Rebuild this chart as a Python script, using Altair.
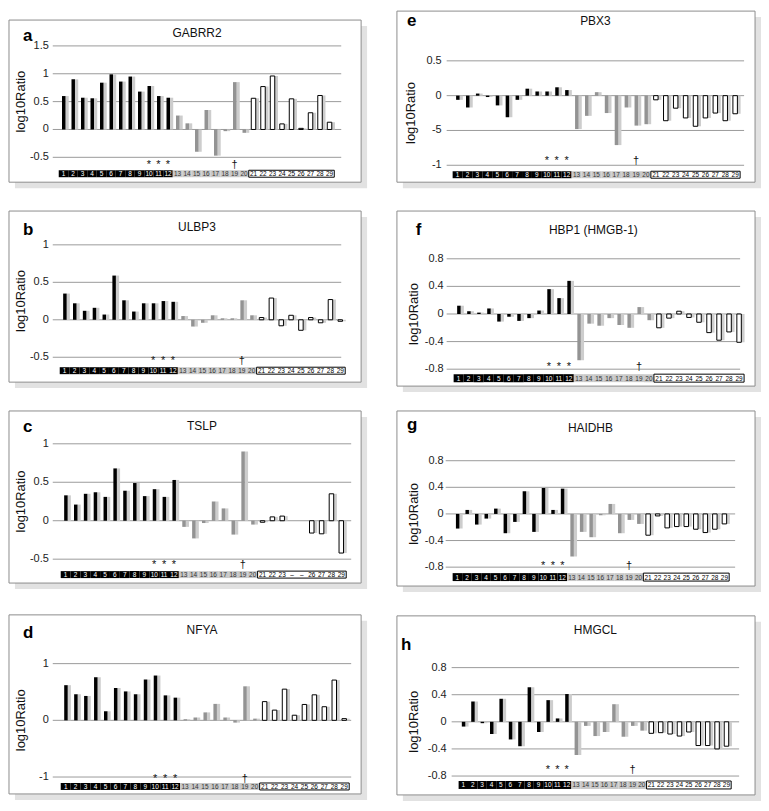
import altair as alt
import pandas as pd

# ---------------- data ----------------
samples = list(range(1, 30))
sample_groups = ["black"] * 12 + ["gray"] * 8 + ["white"] * 9
strip_labels = [str(s) for s in samples]
strip_labels_tslp = [str(s) for s in samples[:23]] + ["\u2013", "\u2013"] + [str(s) for s in samples[25:]]

group_names = ["black", "gray", "white"]
group_start = [1, 13, 21]
group_end = [12, 20, 29]

marker_samples = [10, 11, 12, 19]
marker_symbols = ["*", "*", "*", "\u2020"]

gabrr2 = [0.60, 0.90, 0.57, 0.56, 0.84, 0.99, 0.86, 0.95, 0.68, 0.78, 0.60, 0.57,
          0.25, 0.11, -0.40, 0.35, -0.47, -0.03, 0.85, -0.06,
          0.56, 0.77, 0.96, 0.10, 0.55, 0.02, 0.30, 0.61, 0.13]
ulbp3 = [0.35, 0.22, 0.12, 0.16, 0.07, 0.59, 0.26, 0.11, 0.22, 0.22, 0.25, 0.24,
         0.05, -0.09, -0.04, 0.06, 0.02, 0.02, 0.26, 0.06,
         0.03, 0.29, -0.08, 0.06, -0.14, 0.03, -0.04, 0.27, -0.02]
tslp = [0.33, 0.21, 0.35, 0.37, 0.31, 0.68, 0.39, 0.49, 0.32, 0.41, 0.31, 0.53,
        -0.08, -0.23, -0.03, 0.25, 0.16, -0.18, 0.90, -0.05,
        -0.02, 0.05, 0.06, None, None, -0.16, -0.17, 0.35, -0.42]
nfya = [0.62, 0.46, 0.43, 0.76, 0.16, 0.57, 0.51, 0.46, 0.72, 0.79, 0.44, 0.40,
        0.02, 0.05, 0.14, 0.29, 0.05, -0.04, 0.60, 0.03,
        0.33, 0.18, 0.55, 0.09, 0.28, 0.45, 0.24, 0.71, 0.03]
pbx3 = [-0.06, -0.17, 0.03, -0.02, -0.14, -0.31, -0.06, 0.10, 0.06, 0.06, 0.12, 0.08,
        -0.48, -0.29, 0.05, -0.25, -0.71, -0.17, -0.43, -0.41,
        -0.06, -0.36, -0.18, -0.32, -0.44, -0.32, -0.25, -0.36, -0.26]
hbp1 = [0.12, 0.04, 0.02, 0.08, -0.11, -0.04, -0.10, -0.06, 0.05, 0.36, 0.23, 0.48,
        -0.67, -0.14, -0.17, -0.06, -0.16, -0.20, 0.10, -0.09,
        -0.20, -0.06, 0.04, -0.05, -0.12, -0.27, -0.38, -0.26, -0.41]
haidhb = [-0.22, 0.06, -0.16, -0.07, 0.08, -0.29, -0.12, 0.34, -0.27, 0.39, 0.06, 0.38,
          -0.64, -0.27, -0.35, -0.02, 0.15, -0.29, -0.09, -0.15,
          -0.32, -0.03, -0.21, -0.19, -0.19, -0.23, -0.28, -0.23, -0.15]
hmgcl = [-0.07, 0.30, -0.02, -0.18, 0.34, -0.26, -0.36, 0.51, -0.15, 0.32, 0.05, 0.41,
         -0.49, -0.06, -0.21, -0.15, 0.26, -0.22, -0.06, -0.13,
         -0.17, -0.16, -0.18, -0.21, -0.15, -0.35, -0.35, -0.40, -0.36]

ticks_a = [-0.5, 0, 0.5, 1, 1.5]
labels_a = ["-0.5", "0", "0.5", "1", "1.5"]
ticks_bc = [-0.5, 0, 0.5, 1]
labels_bc = ["-0.5", "0", "0.5", "1"]
ticks_d = [-1, 0, 1]
labels_d = ["-1", "0", "1"]
ticks_e = [-1, -0.5, 0, 0.5]
labels_e = ["-1", "-5", "0", "0.5"]
ticks_fgh = [-0.8, -0.4, 0, 0.4, 0.8]
labels_fgh = ["-0.8", "-0.4", "0", "0.4", "0.8"]

FONT = "Liberation Sans"
bar_fill = {"black": "#000000", "gray": "#939393", "white": "#ffffff"}
strip_fill = {"black": "#000000", "gray": "#c8c8c8", "white": "#ffffff"}
strip_text = {"black": "#ffffff", "gray": "#333333", "white": "#000000"}

LW, RW = 390, 366


def panel(p):
    W, H = p["cell"]
    bx0, by0, bx1, by1 = p["box"]
    gx0, gx1 = p["grid"]
    xs = alt.Scale(domain=[0.5, 29.5], range=list(p["band"]), nice=False, zero=False)
    ys = alt.Scale(domain=[p["ticks"][0], p["ticks"][-1]], range=[p["glo"], p["ghi"]],
                   nice=False, zero=False)
    one = pd.DataFrame({"k": [0]})

    df = pd.DataFrame({"sample": samples, "value": p["values"], "group": sample_groups})
    df["base"] = 0.0
    df["fill"] = df["group"].map(bar_fill)

    st = pd.DataFrame({"sample": samples, "group": sample_groups, "label": p["strip"]})
    st["fill"] = st["group"].map(strip_fill)
    st["tcol"] = st["group"].map(strip_text)

    grp = pd.DataFrame({"group": group_names, "start": group_start, "end": group_end})
    tk = pd.DataFrame({"tick": p["ticks"], "label": p["labels"]})
    mk = pd.DataFrame({"sample": marker_samples, "sym": marker_symbols})

    layers = []
    # panel shadow and frame
    layers.append(alt.Chart(one).mark_rect(color="#e2e2e2").encode(
        x=alt.value(bx0 + 6), x2=alt.value(bx1 + 6), y=alt.value(by0 + 6), y2=alt.value(by1 + 6)))
    layers.append(alt.Chart(one).mark_rect(fill="#ffffff", stroke="#8c8c8c", strokeWidth=1).encode(
        x=alt.value(bx0), x2=alt.value(bx1), y=alt.value(by0), y2=alt.value(by1)))
    # gridlines
    layers.append(alt.Chart(tk).mark_rule(color="#9a9a9a", strokeWidth=1).encode(
        y=alt.Y("tick:Q", scale=ys, axis=None), x=alt.value(gx0), x2=alt.value(gx1)))
    # y labels
    layers.append(alt.Chart(tk).mark_text(align="right", baseline="middle", fontSize=11,
                                          font=FONT, color="#222222").encode(
        y=alt.Y("tick:Q", scale=ys, axis=None), x=alt.value(p["lx"]), text="label:N"))
    # bar shadows
    narrow = alt.datum.group != "white"
    wide = alt.datum.group == "white"
    layers.append(alt.Chart(df).transform_filter(narrow).mark_bar(
        width=3.5, xOffset=3.5, color="#cdcdcd").encode(
        x=alt.X("sample:Q", scale=xs, axis=None),
        y=alt.Y("value:Q", scale=ys, axis=None), y2="base:Q"))
    layers.append(alt.Chart(df).transform_filter(wide).mark_bar(
        width=5, xOffset=3, color="#cdcdcd").encode(
        x=alt.X("sample:Q", scale=xs, axis=None),
        y=alt.Y("value:Q", scale=ys, axis=None), y2="base:Q"))
    # bars
    layers.append(alt.Chart(df).transform_filter(narrow).mark_bar(
        width=3.5, xOffset=0.25).encode(
        x=alt.X("sample:Q", scale=xs, axis=None),
        y=alt.Y("value:Q", scale=ys, axis=None), y2="base:Q",
        color=alt.Color("fill:N", scale=None)))
    layers.append(alt.Chart(df).transform_filter(wide).mark_bar(
        width=4.5, xOffset=0, fill="#ffffff", stroke="#000000", strokeWidth=1).encode(
        x=alt.X("sample:Q", scale=xs, axis=None),
        y=alt.Y("value:Q", scale=ys, axis=None), y2="base:Q"))
    # sample strip
    s0, s1 = p["strip_y"]
    layers.append(alt.Chart(st).transform_calculate(
        x0="datum.sample - 0.5", x1="datum.sample + 0.5").mark_rect().encode(
        x=alt.X("x0:Q", scale=xs, axis=None), x2="x1:Q",
        y=alt.value(s0), y2=alt.value(s1),
        color=alt.Color("fill:N", scale=None)))
    layers.append(alt.Chart(grp).transform_filter(alt.datum.group == "white").transform_calculate(
        x0="datum.start - 0.5", x1="datum.end + 0.5").mark_rect(
        fillOpacity=0, stroke="#000000", strokeWidth=1).encode(
        x=alt.X("x0:Q", scale=xs, axis=None), x2="x1:Q",
        y=alt.value(s0), y2=alt.value(s1)))
    layers.append(alt.Chart(st).mark_text(fontSize=6.5, baseline="middle", font=FONT).encode(
        x=alt.X("sample:Q", scale=xs, axis=None), y=alt.value((s0 + s1) / 2 + 0.5),
        text="label:N", color=alt.Color("tcol:N", scale=None)))
    # markers
    layers.append(alt.Chart(mk).mark_text(fontSize=11, baseline="middle", font=FONT,
                                          color="#111111").encode(
        x=alt.X("sample:Q", scale=xs, axis=None), y=alt.value(p["mark_y"]), text="sym:N"))
    # texts
    layers.append(alt.Chart(one).mark_text(align="left", baseline="alphabetic", fontSize=17,
                                           fontWeight="bold", font=FONT, color="#000000").encode(
        x=alt.value(p["letter"][0]), y=alt.value(p["letter"][1]), text=alt.value(p["tag"])))
    layers.append(alt.Chart(one).mark_text(align="center", baseline="middle", fontSize=12,
                                           font=FONT, color="#111111").encode(
        x=alt.value((gx0 + gx1) / 2), y=alt.value(p["title_y"]), text=alt.value(p["title"])))
    layers.append(alt.Chart(one).mark_text(align="center", baseline="middle", fontSize=13,
                                           angle=270, font=FONT, color="#111111").encode(
        x=alt.value(p["ytx"]), y=alt.value((p["glo"] + p["ghi"]) / 2), text=alt.value("log10Ratio")))
    return alt.layer(*layers).properties(width=W, height=H)


P = [
    dict(tag="a", title="GABRR2", values=gabrr2, ticks=ticks_a, labels=labels_a, strip=strip_labels,
         cell=(LW, 198), box=(0, 9, 354, 172), grid=(44, 334), band=(45, 332), glo=147, ghi=35,
         strip_y=(160, 167), mark_y=155, lx=40, ytx=12, letter=(14, 30), title_y=22),
    dict(tag="e", title="PBX3", values=pbx3, ticks=ticks_e, labels=labels_e, strip=strip_labels,
         cell=(RW, 198), box=(0, 0, 360, 172), grid=(50, 349), band=(51, 350), glo=155, ghi=50,
         strip_y=(161, 168), mark_y=151, lx=45, ytx=14, letter=(10, 15), title_y=10),
    dict(tag="b", title="ULBP3", values=ulbp3, ticks=ticks_bc, labels=labels_bc, strip=strip_labels,
         cell=(LW, 201), box=(0, 3, 354, 175), grid=(44, 334), band=(46, 343), glo=150, ghi=37,
         strip_y=(160, 167), mark_y=154, lx=40, ytx=12, letter=(14, 27), title_y=19),
    dict(tag="f", title="HBP1 (HMGB-1)", values=hbp1, ticks=ticks_fgh, labels=labels_fgh, strip=strip_labels,
         cell=(RW, 201), box=(0, 3, 360, 179), grid=(50, 345), band=(52, 354), glo=162, ghi=51,
         strip_y=(167, 175), mark_y=160, lx=47, ytx=17, letter=(19, 27), title_y=22),
    dict(tag="c", title="TSLP", values=tslp, ticks=ticks_bc, labels=labels_bc, strip=strip_labels_tslp,
         cell=(LW, 205), box=(0, 3, 354, 176), grid=(44, 344), band=(47, 344), glo=152, ghi=36,
         strip_y=(164, 171), mark_y=158, lx=40, ytx=12, letter=(14, 24), title_y=18),
    dict(tag="g", title="HAIDHB", values=haidhb, ticks=ticks_fgh, labels=labels_fgh, strip=strip_labels,
         cell=(RW, 205), box=(0, 3, 360, 179), grid=(49, 340), band=(51, 339), glo=160, ghi=53,
         strip_y=(166, 174), mark_y=159, lx=47, ytx=17, letter=(10, 22), title_y=20),
    dict(tag="d", title="NFYA", values=nfya, ticks=ticks_d, labels=labels_d, strip=strip_labels,
         cell=(LW, 191), box=(0, 3, 354, 183), grid=(44, 344), band=(47, 347), glo=166, ghi=52,
         strip_y=(172, 179), mark_y=168, lx=40, ytx=12, letter=(14, 26), title_y=18),
    dict(tag="h", title="HMGCL", values=hmgcl, ticks=ticks_fgh, labels=labels_fgh, strip=strip_labels,
         cell=(RW, 191), box=(0, 4, 360, 184), grid=(55, 344), band=(57, 341), glo=165, ghi=56,
         strip_y=(170, 178), mark_y=159, lx=50, ytx=17, letter=(4, 38), title_y=18),
]

chart = alt.concat(*[panel(p) for p in P], columns=2, spacing=0, bounds="flush").properties(
    padding=0).configure_view(stroke=None)

chart.save("out.html", embed_options={"renderer": "svg", "actions": False})
